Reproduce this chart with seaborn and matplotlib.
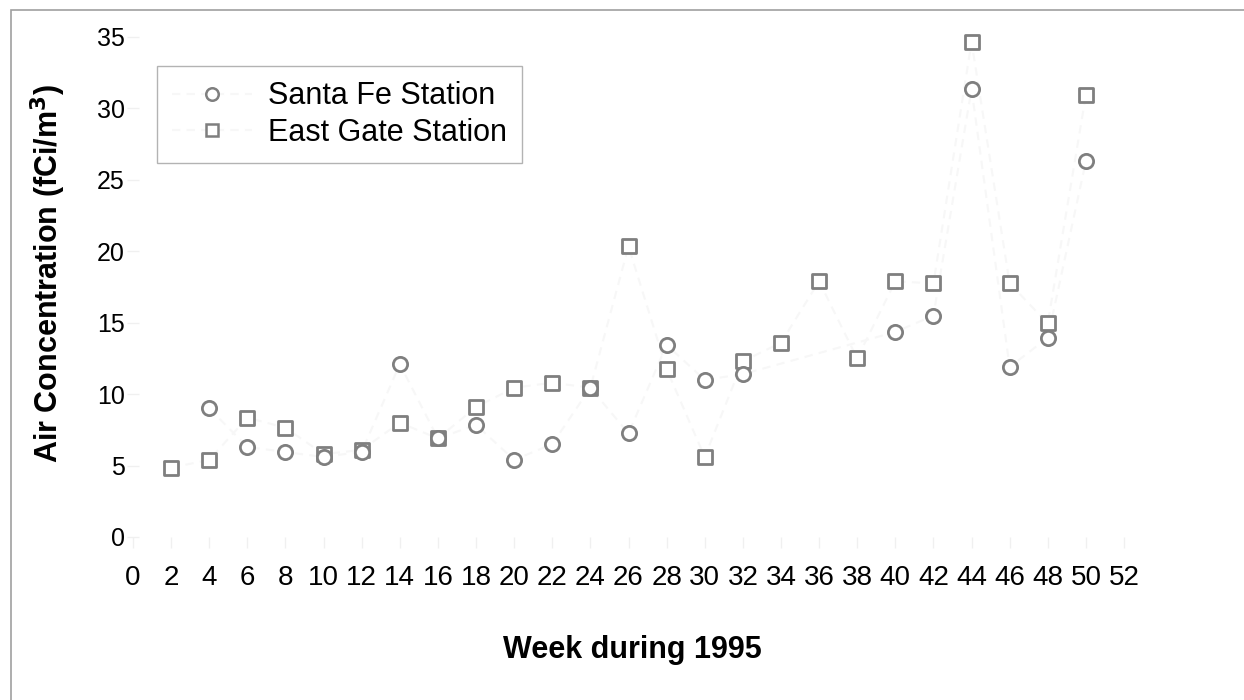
import numpy as np
import pandas as pd
import matplotlib
matplotlib.use("Agg")
import matplotlib.pyplot as plt
from matplotlib.lines import Line2D
from matplotlib.patches import Rectangle
import seaborn as sns

weeks = [2, 4, 6, 8, 10, 12, 14, 16, 18, 20, 22, 24, 26, 28, 30, 32, 34, 36, 38, 40, 42, 44, 46, 48, 50]
santa_fe = [np.nan, 9.0, 6.3, 5.95, 5.6, 5.97, 12.1, 6.9, 7.85, 5.4, 6.5, 10.45, 7.25, 13.45, 11.0, 11.4,
            np.nan, np.nan, np.nan, 14.35, 15.5, 31.35, 11.9, 13.95, 26.3]
east_gate = [4.85, 5.4, 8.35, 7.65, 5.8, 6.1, 8.0, 6.9, 9.1, 10.45, 10.8, 10.45, 20.35, 11.75, 5.6, 12.3,
             13.6, 17.9, 12.5, 17.9, 17.75, 34.65, 17.75, 14.95, 30.95]
series_names = ["Santa Fe Station", "East Gate Station"]
x_ticks = list(range(0, 53, 2))
y_ticks = [0, 5, 10, 15, 20, 25, 30, 35]

sns.set_theme(style="white")
plt.rcParams["font.family"] = ["Liberation Sans", "DejaVu Sans"]
plt.rcParams["text.color"] = "black"

df_sf = pd.DataFrame({"week": weeks, "value": santa_fe})
df_eg = pd.DataFrame({"week": weeks, "value": east_gate})

fig = plt.figure(figsize=(12.44, 7.0), dpi=100)
ax = fig.add_axes([133 / 1244, 1 - 537 / 700, (1124 - 133) / 1244, 500 / 700])

gray = "#7f7f7f"
faint = "#f7f7f7"

# faint connecting lines
sns.lineplot(data=df_eg, x="week", y="value", ax=ax, color=faint, lw=1.5,
             linestyle=(0, (4, 3)), legend=False, zorder=1)
sns.lineplot(data=df_sf, x="week", y="value", ax=ax, color=faint, lw=1.5,
             linestyle=(0, (4, 3)), legend=False, zorder=1)

sns.scatterplot(data=df_eg, x="week", y="value", ax=ax, marker="s", s=115,
                facecolor="white", edgecolor=gray, linewidth=2.0, zorder=3, clip_on=False)
sns.scatterplot(data=df_sf, x="week", y="value", ax=ax, marker="o", s=105,
                facecolor="white", edgecolor=gray, linewidth=2.0, zorder=4, clip_on=False)

ax.set_xlim(0, 52)
ax.set_ylim(0, 35)
ax.set_xticks(x_ticks)
ax.set_xticklabels([str(t) for t in x_ticks])
ax.set_yticks(y_ticks)
ax.set_yticklabels([str(t) for t in y_ticks])
for s in ax.spines.values():
    s.set_visible(False)
ax.tick_params(axis="x", which="major", bottom=True, length=8, width=1, color="#f0f0f0",
               direction="out", labelsize=20, pad=12, labelcolor="black")
ax.tick_params(axis="y", which="major", left=True, length=8, width=1, color="#f0f0f0",
               direction="inout", labelsize=18, pad=2, labelcolor="black")
ax.set_xlabel("")
ax.set_ylabel("")
ax.grid(False)

fig.text(632 / 1244, 1 - 650 / 700, "Week during 1995", ha="center", va="center",
         fontsize=22, fontweight="bold", color="black")
fig.text(48 / 1244, 1 - 273 / 700, "Air Concentration (fCi/m$^\\mathbf{3}$)", ha="center", va="center",
         rotation=90, fontsize=22, fontweight="bold", color="black")

handles = [
    Line2D([], [], color=faint, lw=1.5, linestyle=(0, (4, 3)), marker="o", markersize=9,
           markerfacecolor="white", markeredgecolor=gray, markeredgewidth=1.8),
    Line2D([], [], color=faint, lw=1.5, linestyle=(0, (4, 3)), marker="s", markersize=9,
           markerfacecolor="white", markeredgecolor=gray, markeredgewidth=1.8),
]
leg = ax.legend(handles, series_names, loc="upper left",
                bbox_to_anchor=(157 / 1244, 1 - 66 / 700), bbox_transform=fig.transFigure,
                fontsize=22, frameon=True, fancybox=False, borderaxespad=0, borderpad=0.5,
                handlelength=2.6, handletextpad=0.52, labelspacing=0.22)
leg.get_frame().set_edgecolor("#a0a0a0")
leg.get_frame().set_linewidth(1.0)
leg.get_frame().set_facecolor("white")
for t in leg.get_texts():
    t.set_color("black")

fig.patches.append(Rectangle((11 / 1244, -0.1), 1.2, 1 - 10 / 700 + 0.1, transform=fig.transFigure,
                             fill=False, edgecolor="#a0a0a0", linewidth=1.2))

fig.savefig("out.png", dpi=100)
